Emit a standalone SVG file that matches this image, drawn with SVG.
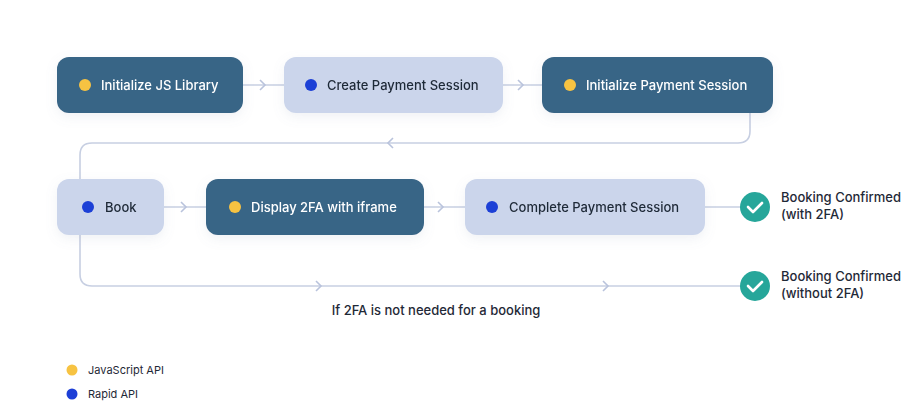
<svg xmlns="http://www.w3.org/2000/svg" width="908" height="403" viewBox="0 0 908 403">
<defs>
<style>
text{font-family:Inter,"Noto Sans",sans-serif;font-size:13px;font-weight:500}
.dark{fill:#396586}
.light{fill:#cbd5eb}
.tw{fill:#ffffff}
.tk{fill:#1f2937}
.ln{stroke:#c7cfe2;stroke-width:1.6;fill:none}
.ch{stroke:#b9c3dc;stroke-width:1.6;fill:none}
.y{fill:#f7c342}
.b{fill:#1d3fd6}
</style>
<filter id="sh" x="-20%" y="-40%" width="140%" height="180%"><feDropShadow dx="0" dy="4" stdDeviation="6" flood-color="#8090b0" flood-opacity="0.12"/></filter>
</defs>
<rect width="908" height="403" fill="#ffffff"/>
<g id="connectors">
<path class="ln" d="M243 85H284M503 85H542"/>
<path class="ch" d="M260 80l5 5l-5 5M518 80l5 5l-5 5"/>
<path class="ln" d="M750 113V131Q750 143 738 143H92Q80 143 80 155V179"/>
<path class="ch" d="M393 138l-5 5l5 5"/>
<path class="ln" d="M164 207H206M424 207H465M705 207H741"/>
<path class="ch" d="M181 202l5 5l-5 5M438 202l5 5l-5 5"/>
<path class="ln" d="M80 235V274Q80 286 92 286H741"/>
<path class="ch" d="M316 281l5 5l-5 5M603 281l5 5l-5 5"/>
</g>
<g id="n1" filter="url(#sh)"><rect class="dark" x="57" y="57" width="186" height="56" rx="12"/><circle class="y" cx="85" cy="85" r="6"/><text class="tw" x="101" y="90">Initialize JS Library</text></g>
<g id="n2" filter="url(#sh)"><rect class="light" x="284" y="57" width="219" height="56" rx="12"/><circle class="b" cx="311" cy="85" r="6"/><text class="tk" x="327" y="90">Create Payment Session</text></g>
<g id="n3" filter="url(#sh)"><rect class="dark" x="542" y="57" width="231" height="56" rx="12"/><circle class="y" cx="570" cy="85" r="6"/><text class="tw" x="586" y="90">Initialize Payment Session</text></g>
<g id="n4" filter="url(#sh)"><rect class="light" x="57" y="179" width="107" height="56" rx="12"/><circle class="b" cx="88" cy="207" r="6"/><text class="tk" x="105" y="212">Book</text></g>
<g id="n5" filter="url(#sh)"><rect class="dark" x="206" y="179" width="218" height="56" rx="12"/><circle class="y" cx="235" cy="207" r="6"/><text class="tw" x="251" y="212">Display 2FA with iframe</text></g>
<g id="n6" filter="url(#sh)"><rect class="light" x="465" y="179" width="240" height="56" rx="12"/><circle class="b" cx="492" cy="207" r="6"/><text class="tk" x="509" y="212">Complete Payment Session</text></g>
<g id="c1"><circle cx="755" cy="207" r="15" fill="#26a69a"/><path d="M748 207l5 5l9-9" stroke="#fff" stroke-width="2.6" fill="none" stroke-linecap="round" stroke-linejoin="round"/><text class="tk" x="781" y="202">Booking Confirmed</text><text class="tk" x="781" y="219">(with 2FA)</text></g>
<g id="c2"><circle cx="755" cy="286" r="15" fill="#26a69a"/><path d="M748 286l5 5l9-9" stroke="#fff" stroke-width="2.6" fill="none" stroke-linecap="round" stroke-linejoin="round"/><text class="tk" x="781" y="281">Booking Confirmed</text><text class="tk" x="781" y="298">(without 2FA)</text></g>
<text class="tk" x="436" y="315" text-anchor="middle">If 2FA is not needed for a booking</text>
<g id="legend"><circle class="y" cx="72" cy="370" r="5.5"/><text class="tk" x="88" y="374" style="font-size:11px;font-weight:400">JavaScript API</text><circle class="b" cx="72" cy="394" r="5.5"/><text class="tk" x="88" y="398" style="font-size:11px;font-weight:400">Rapid API</text></g>
</svg>
